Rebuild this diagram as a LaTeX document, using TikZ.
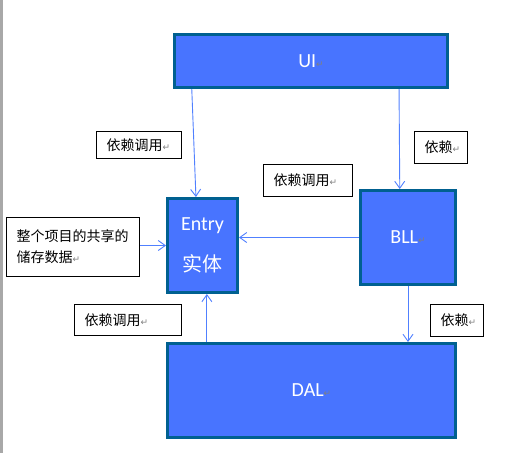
\documentclass[tikz,border=0pt]{standalone}
\usepackage{fontspec}
\setmainfont{Carlito}
\newfontfamily\cjk{Noto Sans CJK SC}
\newfontfamily\symfont{DejaVu Sans}
\usetikzlibrary{arrows.meta,calc}
\definecolor{boxfill}{RGB}{72,116,255}
\definecolor{boxedge}{RGB}{0,96,144}
\definecolor{arrowc}{RGB}{80,128,255}
\definecolor{retgray}{RGB}{128,128,128}
\definecolor{edgegray}{RGB}{168,168,168}
\newcommand\ret{{\symfont\fontsize{9}{9}\selectfont\textcolor{retgray}{↵}}}
\begin{document}
\begin{tikzpicture}[x=1pt,y=-1pt,
  layer/.style={draw=boxedge, line width=3pt, fill=boxfill, text=white, inner sep=0pt,
    align=center, font=\fontsize{20}{41}\selectfont},
  lbl/.style={draw=black, line width=1pt, fill=white, inner xsep=10pt, inner ysep=0pt,
    align=left, font=\cjk\fontsize{14}{21}\selectfont},
  arr/.style={draw=arrowc, line width=0.9pt, -{Straight Barb[length=7pt,width=10pt]}}]
\fill[white] (0,0) rectangle (509,453);
\useasboundingbox (0,0) rectangle (509,453);
\fill[edgegray] (0,0) rectangle (2.5,453);

\node[layer, minimum width=273pt, minimum height=53pt] (ui) at (311,61) {UI\ret};
\node[layer, minimum width=70pt, minimum height=94pt] (entry) at (202.5,245.5) {Entry\\{\cjk 实体}};
\node[layer, minimum width=95pt, minimum height=94pt] (bll) at (408,237.5) {BLL\ret};
\node[layer, minimum width=288pt, minimum height=94pt] (dal) at (311.5,390.5) {DAL\ret};

\node[lbl, minimum height=27pt, text width=65pt] (l1) at (139,145) {依赖调用\ret};
\node[lbl, minimum height=59pt, text width=113pt] (store) at (73,247) {整个项目的共享的\\储存数据\ret};
\node[lbl, minimum height=32pt, text width=69pt] (l3) at (308,180.5) {依赖调用\ret};
\node[lbl, minimum height=32pt, text width=33pt] (l4) at (441,147.5) {依赖\ret};
\node[lbl, minimum height=31pt, text width=87pt] (l5) at (128,320) {依赖调用\ret};
\node[lbl, minimum height=32pt, text width=33pt] (l6) at (457,320.5) {依赖\ret};

\draw[arr] ($(ui.south west)!0.068!(ui.south east)$) -- ($(entry.north west)!0.41!(entry.north east)$);
\draw[arr] ($(ui.south west)!0.819!(ui.south east)$) -- ($(bll.north west)!0.416!(bll.north east)$);
\draw[arr] (bll.west) -- (bll.west -| entry.east);
\draw[arr] (store.east |- entry.west) -- (entry.west);
\coordinate (de) at ($(entry.south west)!0.56!(entry.south east)$);
\draw[arr] (de |- dal.north) -- (de);
\draw[arr] (bll.south) -- (bll.south |- dal.north);
\end{tikzpicture}
\end{document}
